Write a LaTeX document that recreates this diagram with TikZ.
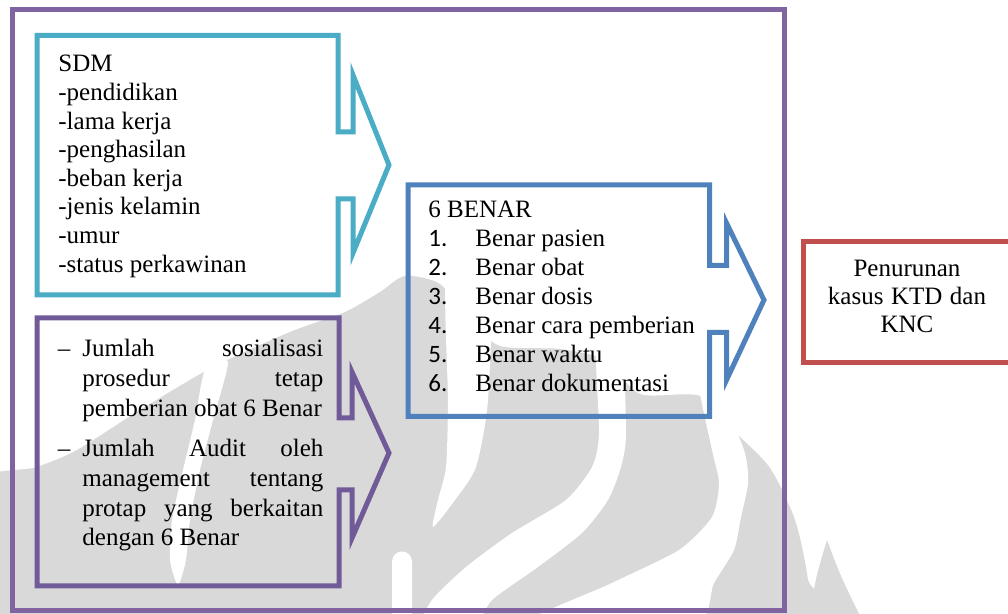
\documentclass[tikz,border=0pt]{standalone}
\usepackage{fontspec}
\setmainfont{Liberation Serif}
\newfontfamily\numfont{Carlito}
\definecolor{framepurple}{RGB}{128,100,162}
\definecolor{sdmcyan}{RGB}{75,172,198}
\definecolor{auditpurple}{RGB}{112,90,152}
\definecolor{benarblue}{RGB}{79,129,189}
\definecolor{hasilred}{RGB}{192,80,77}
\definecolor{wmgray}{RGB}{217,217,217}
\tikzset{
  frame/.style={line width=2.5pt, line join=miter, miter limit=10},
  txt/.style={inner sep=0pt, align=left, font=\fontsize{12.5pt}{14.3pt}\selectfont},
  wm/.style={fill=wmgray},
  gap/.style={fill=white},
}
% restore the font's own interword glue inside aligned nodes
\newcommand{\natsp}{\spaceskip=0pt\xspaceskip=0pt\hyphenpenalty=10000\relax}
\newcommand{\numlbl}[1]{\makebox[23.5pt][l]{\numfont #1}}
\newcommand{\fullline}[1]{\makebox[120.5pt][s]{#1}}
\newcommand{\dashmark}{\llap{–\hspace{6pt}}}
\begin{document}
\begin{tikzpicture}[x=0.5pt,y=-0.5pt]
\useasboundingbox (0,0) rectangle (1008,614);
\clip (0,0) rectangle (1008,614);
\fill[white] (0,0) rectangle (1008,614);

% background emblem
\fill[wm] plot[smooth cycle, tension=0.45] coordinates {
  (-30,660) (-30,490) (37,467) (77,450) (140,410) (213,367) (290,332)
  (345,312) (380,292) (405,276) (440,284) (470,320) (500,346) (560,349)
  (605,360) (640,394) (700,396) (735,432) (770,468) (795,520) (808,580)
  (815,660)};
\fill[wm] (810,620) .. controls (815,580) .. (827,540)
  .. controls (840,575) .. (862,620) -- cycle;
\fill[gap] plot[smooth cycle, tension=0.4] coordinates {
  (447,270) (448,400) (446,467) (438,500) (433,527) (455,500) (476,467)
  (488,400) (490,270)};
\fill[gap] plot[smooth cycle, tension=0.4] coordinates {
  (596,330) (599,433) (592,467) (566,500) (512,533) (466,567) (432,600)
  (420,630) (472,630) (492,600) (538,567) (582,533) (608,500) (621,467)
  (626,433) (621,330)};
\fill[gap] plot[smooth cycle, tension=0.4] coordinates {
  (698,380) (712,450) (719,483) (712,517) (679,550) (612,583) (515,630)
  (690,630) (714,583) (734,550) (741,517) (748,483) (744,450) (714,380)};
\fill[gap] plot[smooth cycle, tension=0.4] coordinates {
  (205,370) (195,420) (183,470) (172,520) (170,560) (178,585) (186,560)
  (190,520) (200,470) (213,420) (228,362)};
\fill[gap] (392,630) -- (392,562) .. controls (392,548) and (412,548)
  .. (412,562) -- (412,630) -- cycle;

% outer frame
\draw[frame, framepurple] (12.5,9.5) rectangle (784,611);

% SDM callout
\draw[frame, sdmcyan] (37,35.5) -- (338,35.5) -- (338,132) -- (353,132)
  -- (353,75) -- (389,165) -- (353,253) -- (353,199) -- (338,199)
  -- (338,295) -- (37,295) -- cycle;

% audit callout
\draw[frame, auditpurple] (37,318) -- (339,318) -- (339,418) -- (352,418)
  -- (352,372) -- (389,453) -- (352,538) -- (352,490) -- (339,490)
  -- (339,586) -- (37,586) -- cycle;

% 6 BENAR callout
\draw[frame, benarblue] (408,185) -- (709.5,185) -- (709.5,265.5)
  -- (726.5,265.5) -- (726.5,223) -- (764,300) -- (726.5,380)
  -- (726.5,332.5) -- (709.5,332.5) -- (709.5,416.5) -- (408,416.5) -- cycle;

% outcome box
\draw[frame, hasilred] (803.5,241.5) rectangle (1015,363);

% texts
\node[txt, anchor=base west, text width=170pt] (sdm) at (58,72)
  {\natsp SDM\\-pendidikan\\-lama kerja\\-penghasilan\\-beban kerja\\-jenis kelamin\\-umur\\-status perkawinan};

\node[txt, anchor=base west, text width=121pt,
  font=\fontsize{12.5pt}{14.8pt}\selectfont] (sosialisasi) at (82,357)
  {\natsp\dashmark\fullline{Jumlah sosialisasi}\\
   \fullline{prosedur tetap}\\
   pemberian obat 6 Benar};

\node[txt, anchor=base west, text width=121pt,
  font=\fontsize{12.5pt}{14.8pt}\selectfont] (audit) at (82,457)
  {\natsp\dashmark\fullline{Jumlah Audit oleh}\\
   \fullline{management tentang}\\
   \fullline{protap yang berkaitan}\\
   dengan 6 Benar};

\node[txt, anchor=base west, text width=150pt,
  font=\fontsize{12.5pt}{14.5pt}\selectfont] (benar) at (428,218)
  {\natsp 6 BENAR\\
   \numlbl{1.}Benar pasien\\
   \numlbl{2.}Benar obat\\
   \numlbl{3.}Benar dosis\\
   \numlbl{4.}Benar cara pemberian\\
   \numlbl{5.}Benar waktu\\
   \numlbl{6.}Benar dokumentasi};

\node[txt, anchor=base, align=center, text width=100pt,
  font=\fontsize{12.5pt}{14pt}\selectfont] (hasil) at (907,277)
  {\natsp Penurunan\\kasus KTD dan\\KNC};
\end{tikzpicture}
\end{document}
